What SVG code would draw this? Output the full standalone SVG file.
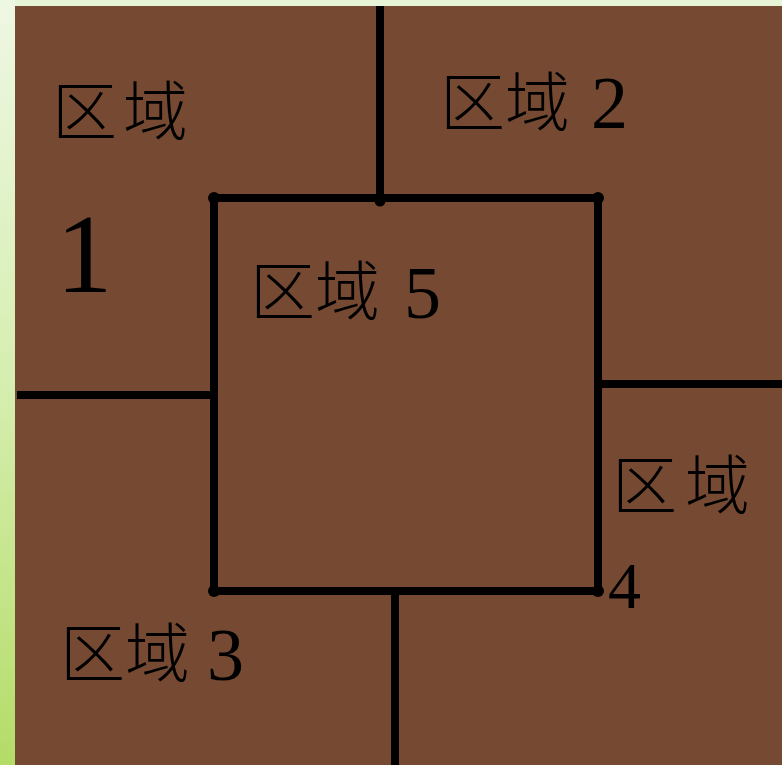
<svg xmlns="http://www.w3.org/2000/svg" width="782" height="765" viewBox="0 0 782 765">
<defs>
<linearGradient id="side" x1="0" y1="0" x2="0" y2="1">
<stop offset="0" stop-color="#eef7e3"/>
<stop offset="0.5" stop-color="#d6eeb0"/>
<stop offset="1" stop-color="#b4dc68"/>
</linearGradient>
</defs>
<style>
.ln{stroke:#000;stroke-width:8;fill:none;stroke-linecap:butt}
.dot{fill:#000}
.cj{font-family:"Noto Sans CJK SC","Noto Sans CJK JP",sans-serif;font-size:65px;font-weight:300;fill:#000}
.dg{font-family:"Liberation Serif","Times New Roman",serif;fill:#000}
</style>
<rect x="0" y="0" width="782" height="765" fill="#e8f4d8"/>
<rect x="0" y="0" width="15" height="765" fill="url(#side)"/>
<rect x="15" y="6" width="767" height="759" fill="#764a32"/>
<g id="connectors">
<line class="ln" x1="380" y1="6" x2="380" y2="199"/>
<rect class="ln" x="214" y="198" width="384" height="393"/>
<line class="ln" x1="17" y1="395" x2="218" y2="395"/>
<line class="ln" x1="595" y1="384" x2="782" y2="384"/>
<line class="ln" x1="395" y1="591" x2="395" y2="765"/>
<circle class="dot" cx="214" cy="198" r="6"/>
<circle class="dot" cx="598" cy="198" r="6"/>
<circle class="dot" cx="214" cy="591" r="6"/>
<circle class="dot" cx="598" cy="591" r="6"/>
<circle class="dot" cx="380" cy="201" r="5.5"/>
</g>
<g id="region1">
<text class="cj" x="52" y="135">区</text>
<text class="cj" x="123" y="135">域</text>
<text class="dg" x="56" y="292" font-size="113">1</text>
</g>
<g id="region2">
<text class="cj" x="440" y="126">区</text>
<text class="cj" x="505" y="126">域</text>
<text class="dg" x="591" y="128" font-size="74">2</text>
</g>
<g id="region5">
<text class="cj" x="250" y="315">区</text>
<text class="cj" x="315" y="315">域</text>
<text class="dg" x="404" y="318" font-size="74">5</text>
</g>
<g id="region4">
<text class="cj" x="612" y="509">区</text>
<text class="cj" x="685" y="509">域</text>
<text class="dg" x="608" y="608" font-size="66">4</text>
</g>
<g id="region3">
<text class="cj" x="60" y="677">区</text>
<text class="cj" x="125" y="677">域</text>
<text class="dg" x="207" y="680" font-size="74">3</text>
</g>
</svg>
